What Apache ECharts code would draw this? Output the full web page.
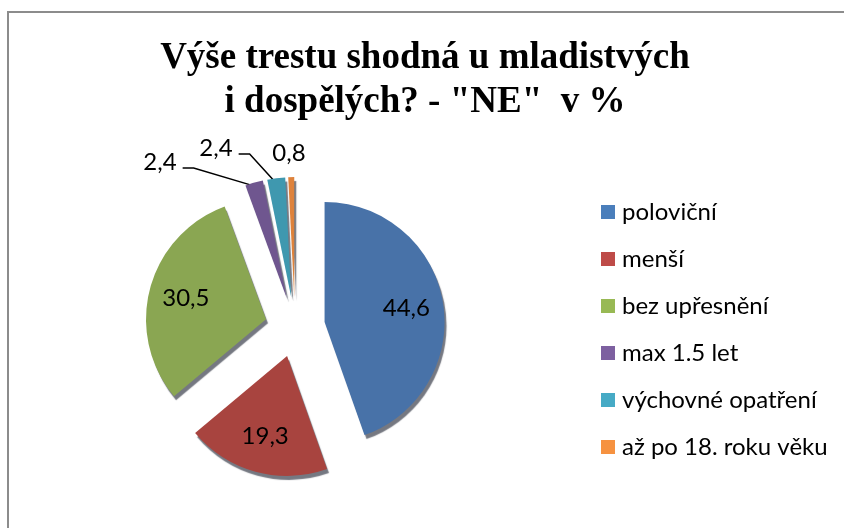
<!DOCTYPE html>
<html>
<head>
<meta charset="utf-8">
<script src="https://cdn.jsdelivr.net/npm/echarts@6/dist/echarts.min.js"></script>
<style>
  html, body { margin: 0; padding: 0; background: #fff; }
  #chart { width: 844px; height: 528px; }
</style>
</head>
<body>
<div id="chart"></div>
<script>
// --- data ---
const categories  = ['poloviční', 'menší', 'bez upřesnění', 'max 1.5 let', 'výchovné opatření', 'až po 18. roku věku'];
const values      = [44.6, 19.3, 30.5, 2.4, 2.4, 0.8];
const sliceColors = ['#4872a8', '#a8443f', '#8aa652', '#6f568f', '#3f98af', '#de823b'];
const legendColors = ['#4a7ebb', '#be4b48', '#98b954', '#7d60a0', '#46aac5', '#f69240'];
const titleLines  = ['Výše trestu shodná u mladistvých', 'i dospělých? - "NE"  v %'];

// where the small outside labels sit (label centres), by data index
const smallLabelPos = { 3: [160, 162], 4: [216, 148], 5: [289, 153] };

const fmt = v => String(v).replace('.', ',');
const isSmall = v => v < 5;

const chart = echarts.init(document.getElementById('chart'), null, { renderer: 'canvas' });

const CENTER = [295, 327];
const R = 120;
const EXPLODE = 30;
const LABEL_FONT = { fontFamily: 'Lato', fontSize: 24, color: '#000' };

// point on the outer arc of an exploded slice, at a fraction of its span
const total = values.reduce((a, b) => a + b, 0);
function arcPoint(idx, frac) {
  const before = values.slice(0, idx).reduce((a, b) => a + b, 0);
  const a0 = before / total * 2 * Math.PI;
  const span = values[idx] / total * 2 * Math.PI;
  const mid = a0 + span / 2;
  const a = a0 + span * frac;
  return [
    CENTER[0] + EXPLODE * Math.sin(mid) + (R - 2) * Math.sin(a),
    CENTER[1] - EXPLODE * Math.cos(mid) - (R - 2) * Math.cos(a)
  ];
}

chart.setOption({
  backgroundColor: '#fff',
  animation: false,
  title: {
    text: titleLines.join('\n'),
    left: 420, textAlign: 'center',
    top: 31,
    textStyle: {
      fontFamily: '"Liberation Serif", "Times New Roman", serif',
      fontWeight: 'bold', fontSize: 37, lineHeight: 44, color: '#000'
    }
  },
  legend: {
    orient: 'vertical',
    left: 596, top: 195,
    icon: 'rect',
    itemWidth: 14, itemHeight: 14,
    itemGap: 23,
    selectedMode: false,
    textStyle: { fontFamily: 'Lato', fontSize: 24, color: '#000', padding: [0, 0, 0, 2] },
    data: categories.map((c, i) => ({ name: c, itemStyle: { color: legendColors[i] } }))
  },
  graphic: [{
    type: 'rect',
    shape: { x: 8, y: 12, width: 900, height: 600 },
    style: { fill: 'none', stroke: '#8c8c8c', lineWidth: 2 },
    silent: true
  }],
  series: [
    {
      // exploded slices, the offset dark shadow fakes the 3D rim
      type: 'pie',
      center: CENTER,
      radius: R,
      startAngle: 90,
      selectedMode: 'multiple',
      selectedOffset: EXPLODE,
      emphasis: { disabled: true },
      itemStyle: {
        shadowColor: 'rgba(25,30,45,0.6)', shadowBlur: 1, shadowOffsetX: 2, shadowOffsetY: 4
      },
      label: { show: false },
      labelLine: { show: false },
      data: categories.map((c, i) => ({
        name: c, value: values[i], selected: true,
        itemStyle: { color: sliceColors[i] }
      }))
    },
    {
      // transparent ring, places the inside labels of the big slices
      type: 'pie',
      center: CENTER,
      radius: [40, R],
      startAngle: 90,
      selectedMode: 'multiple',
      selectedOffset: EXPLODE,
      silent: true,
      emphasis: { disabled: true },
      itemStyle: { color: 'rgba(0,0,0,0)' },
      labelLine: { show: false },
      data: categories.map((c, i) => ({
        name: c, value: values[i], selected: true,
        label: isSmall(values[i])
          ? { show: false }
          : { show: true, position: 'inside', formatter: p => fmt(p.value), ...LABEL_FONT }
      }))
    },
    {
      // transparent, unselected copy carrying the outside labels of the small slices
      type: 'pie',
      center: CENTER,
      radius: R,
      startAngle: 90,
      silent: true,
      avoidLabelOverlap: false,
      emphasis: { disabled: true },
      itemStyle: { color: 'rgba(0,0,0,0)' },
      labelLayout: p => {
        const pos = smallLabelPos[p.dataIndex];
        if (!pos) return {};
        const right = pos[0] + p.labelRect.width / 2 + 6;
        const ly = pos[1] + 6;
        return {
          x: pos[0], y: pos[1], align: 'center', verticalAlign: 'middle',
          labelLinePoints: [arcPoint(p.dataIndex, 0.35), [right + 11, ly], [right, ly]]
        };
      },
      data: categories.map((c, i) => ({
        name: c, value: values[i],
        label: isSmall(values[i])
          ? { show: true, position: 'outside', formatter: p => fmt(p.value), ...LABEL_FONT }
          : { show: false },
        labelLine: (isSmall(values[i]) && i !== 5)
          ? { show: true, length: 14, length2: 12, lineStyle: { color: '#000', width: 1.5 } }
          : { show: false }
      }))
    }
  ]
});
</script>
</body>
</html>
